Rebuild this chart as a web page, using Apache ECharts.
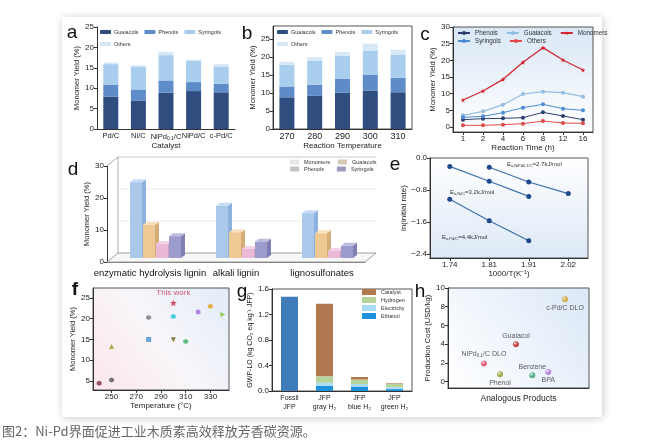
<!DOCTYPE html>
<html>
<head>
<meta charset="utf-8">
<script src="https://cdn.jsdelivr.net/npm/echarts@6/dist/echarts.min.js"></script>
<style>
html, body { margin: 0; background: #fff; }
#chart { width: 660px; height: 444px; }
</style>
</head>
<body>
<div id="chart"></div>
<script>
// a: catalysts
var catalysts = ['Pd/C', 'Ni/C', 'NiPd0.1/C', 'NiPd/C', 'c-Pd/C'];
var aGuaiacols = [7.9, 7.0, 8.9, 9.3, 9.0];
var aPhenols = [3.0, 2.7, 3.0, 2.2, 2.1];
var aSyringols = [5.0, 5.6, 6.2, 5.2, 4.1];
var aOthers = [0.4, 0.3, 0.8, 0.3, 0.7];

// b: reaction temperature
var temps = ['270', '280', '290', '300', '310'];
var bGuaiacols = [8.8, 9.2, 10.1, 10.6, 10.2];
var bPhenols = [3.0, 3.1, 3.8, 4.4, 4.0];
var bSyringols = [6.0, 6.6, 6.4, 6.8, 6.5];
var bOthers = [0.9, 1.0, 1.1, 1.9, 1.3];

// c: reaction time
var times = ['1', '2', '4', '6', '8', '12', '16'];
var cPhenols = [2.2, 2.5, 2.6, 2.8, 4.4, 3.3, 2.2];
var cGuaiacols = [3.5, 4.7, 6.7, 9.9, 10.6, 10.3, 9.1];
var cSyringols = [2.9, 3.2, 4.3, 5.8, 6.8, 5.5, 5.0];
var cMonomers = [8.1, 10.8, 14.3, 19.4, 23.8, 20.1, 17.1];
var cOthers = [0.5, 0.5, 0.7, 1.0, 1.8, 1.2, 1.1];

// d: lignin sources
var lignins = ['enzymatic hydrolysis lignin', 'alkali lignin', 'lignosulfonates'];
var dMonomers = [23.7, 16.3, 14.0];
var dGuaiacols = [10.3, 8.0, 7.7];
var dPhenols = [4.4, 2.8, 2.3];
var dSyringols = [6.8, 5.1, 3.8];

// e: Arrhenius
var invT = ['1.74', '1.81', '1.91', '2.02'];
var eNiPd = [null, -0.23, -0.60, -0.89];
var eNi = [-0.21, -0.58, -0.96, null];
var ePd = [-1.03, -1.57, -2.07, null];

// f: literature comparison
var fTemp = [240, 250, 250, 280, 280, 300, 300, 300, 310, 320, 330, 340];
var fYield = [4.4, 5.2, 13.3, 20.3, 15.0, 23.8, 20.5, 14.9, 14.5, 21.6, 23.0, 21.0];

// g: GWP
var jfp = ['Fossil\nJFP', 'JFP\ngray H₂', 'JFP\nblue H₂', 'JFP\ngreen H₂'];
var gFossil = [1.48, '-', '-', '-'];
var gEthanol = ['-', 0.08, 0.07, 0.03];
var gElectricity = ['-', 0.05, 0.04, 0.03];
var gHydrogen = ['-', 0.10, 0.07, 0.05];
var gCatalyst = ['-', 1.14, 0.04, 0.01];

// h: production cost
var products = ['NiPd0.1/C DLO', 'Phenol', 'Guaiacol', 'Benzene', 'BPA', 'c-Pd/C DLO'];
var hPos = [2.55, 3.69, 4.82, 5.98, 7.11, 8.3];
var hCost = [1.95, 0.8, 4.0, 0.7, 1.05, 8.8];

var FONT = 'Liberation Sans, Arial, sans-serif';
var cG = '#2f4d7e', cP = '#5d8cc8', cS = '#a9cdec', cO = '#d6e8f6';

function merge(a, b) {
    var o = {}, k;
    for (k in a) o[k] = a[k];
    for (k in b) {
        if (b[k] && typeof b[k] === 'object' && !Array.isArray(b[k]) && a[k] && typeof a[k] === 'object') o[k] = merge(a[k], b[k]);
        else o[k] = b[k];
    }
    return o;
}
var baseAxis = {
    axisLine: { show: true, onZero: false, lineStyle: { color: '#333', width: 1 } },
    axisTick: { show: true, length: 3, lineStyle: { color: '#333' } },
    axisLabel: { fontSize: 8, color: '#222', margin: 3, interval: 0, hideOverlap: false },
    splitLine: { show: false },
    nameLocation: 'middle',
    nameTextStyle: { fontSize: 8, color: '#222' }
};
function ax(grid, o) { return merge(merge(baseAxis, { gridIndex: grid }), o); }
function ticks(vals) { return { axisLabel: { customValues: vals }, axisTick: { customValues: vals } }; }
var subRich = { s: { fontSize: 5, padding: [4, 0, 0, 0] } };
function subFmt(v) { return v.replace('0.1', '{s|0.1}'); }
function strip(n) { return n.split(':')[1]; }
function minus(v) { return v.toFixed(1).replace('-', '−'); }

var chart = echarts.init(document.getElementById('chart'));

// 3D bars for panel d
function bar3d(k, face, top, side) {
    return function (params, api) {
        var cat = api.value(0), v = api.value(1);
        var base = api.coord([cat, 0]), tp = api.coord([cat, v]);
        var bw = 12, step = 13, dx = 4, dy = -3;
        var x = base[0] - 20 + k * step;
        var yb = base[1] - 4, yt = tp[1] - 4;
        return { type: 'group', children: [
            { type: 'polygon', shape: { points: [[x + bw, yt], [x + bw + dx, yt + dy], [x + bw + dx, yb + dy], [x + bw, yb]] }, style: { fill: side } },
            { type: 'polygon', shape: { points: [[x, yt], [x + dx, yt + dy], [x + bw + dx, yt + dy], [x + bw, yt]] }, style: { fill: top } },
            { type: 'rect', shape: { x: x, y: yt, width: bw, height: yb - yt }, style: { fill: face } }
        ] };
    };
}
function box3d(params, api) {
    var half = api.size([1, 0])[0] / 2;
    var p0 = api.coord([0, 0]), p30 = api.coord([0, 30]), pr = api.coord([2, 0]);
    var x0 = p0[0] - half, x1 = pr[0] + half, y0 = p0[1], dx = 11, dy = -9;
    var kids = [
        { type: 'polygon', shape: { points: [[x0, y0], [x1, y0], [x1 + dx, y0 + dy], [x0 + dx, y0 + dy]] }, style: { fill: '#f7f7f7', stroke: '#888', lineWidth: 0.8 } },
        { type: 'line', shape: { x1: x0 + dx, y1: y0 + dy, x2: x0 + dx, y2: p30[1] + dy }, style: { stroke: '#999', lineWidth: 0.8 } },
        { type: 'line', shape: { x1: x0, y1: p30[1], x2: x0 + dx, y2: p30[1] + dy }, style: { stroke: '#999', lineWidth: 0.8 } },
        { type: 'line', shape: { x1: x0 + dx, y1: p30[1] + dy, x2: x1 + dx, y2: p30[1] + dy }, style: { stroke: '#bbb', lineWidth: 0.8 } }
    ];
    [10, 20].forEach(function (v) {
        var p = api.coord([0, v]);
        kids.push({ type: 'line', shape: { x1: x0 + dx, y1: p[1] + dy, x2: x1 + dx, y2: p[1] + dy }, style: { stroke: '#e2e2e2', lineWidth: 0.8 } });
    });
    return { type: 'group', children: kids };
}
function toPairs(arr) { return arr.map(function (v, i) { return [i, v]; }); }

var fColors = ['#7b2a3e', '#555555', '#9a9a1a', '#777777', '#4a90d0', '#c8203c', '#22c4d4', '#6b5a14', '#3cb060', '#a070e0', '#e0a020', '#80c030'];
var HEX = 'path://M5,0 L10,2.9 L10,8.7 L5,11.6 L0,8.7 L0,2.9 Z';
var STAR = 'path://M50,0 L61,35 L98,35 L68,57 L79,91 L50,70 L21,91 L32,57 L2,35 L39,35 Z';
var fSymbols = [HEX, HEX, 'triangle', HEX, 'rect', STAR, HEX, 'triangle', HEX, 'circle', HEX, 'triangle'];
var fRotate = [0, 0, 0, 0, 0, 0, 0, 180, 0, 0, 0, -90];
var hColors = ['#e8405c', '#8a9a20', '#c41e1e', '#2fa070', '#b070e0', '#d4a020'];
var hLabelPos = ['top', 'bottom', 'top', 'top', 'bottom', 'bottom'];

function sphere(c) {
    return new echarts.graphic.RadialGradient(0.35, 0.35, 0.7, [
        { offset: 0, color: '#ffffff' }, { offset: 0.45, color: c }, { offset: 1, color: c }
    ]);
}

var option = {
    animation: false,
    textStyle: { fontFamily: FONT },
    grid: [
        { left: 97, top: 27, width: 138, height: 102, show: false },
        { left: 273, top: 26, width: 139, height: 103, show: true, borderColor: '#555', backgroundColor: '#fff' },
        { left: 453, top: 27, width: 140, height: 105, show: true, borderColor: '#555',
          backgroundColor: new echarts.graphic.LinearGradient(0, 0, 0, 1, [{ offset: 0, color: '#d9e7f6' }, { offset: 1, color: '#ffffff' }]) },
        { left: 107, top: 166, width: 258, height: 96, show: false },
        { left: 430, top: 158, width: 158, height: 100, show: true, borderColor: '#555',
          backgroundColor: new echarts.graphic.LinearGradient(0, 0, 0, 1, [{ offset: 0, color: '#ffffff' }, { offset: 1, color: '#dce8f6' }]) },
        { left: 93, top: 288, width: 136, height: 102, show: true, borderColor: '#555',
          backgroundColor: new echarts.graphic.LinearGradient(0, 1, 1, 0, [{ offset: 0, color: '#fbe6ea' }, { offset: 0.5, color: '#f8f6fa' }, { offset: 1, color: '#e2ecf8' }]) },
        { left: 272, top: 289, width: 140, height: 102, show: true, borderColor: '#555', backgroundColor: '#fff' },
        { left: 448, top: 288, width: 141, height: 100, show: true, borderColor: '#555',
          backgroundColor: new echarts.graphic.LinearGradient(0, 1, 1, 0, [{ offset: 0, color: '#ffffff' }, { offset: 1, color: '#dbe8f7' }]) }
    ],
    xAxis: [
        ax(0, { type: 'category', data: catalysts, axisTick: { show: false }, name: 'Catalyst', nameGap: 13, axisLabel: { fontSize: 7.5, formatter: subFmt, rich: subRich } }),
        ax(1, { type: 'category', data: temps, axisTick: { show: false }, name: 'Reaction Temperature', nameGap: 12, axisLabel: { fontSize: 9 } }),
        ax(2, { type: 'category', data: times, axisTick: { alignWithLabel: true }, name: 'Reaction Time (h)', nameGap: 10 }),
        ax(3, { type: 'category', data: lignins, axisTick: { show: false }, axisLine: { lineStyle: { color: '#888' } }, axisLabel: { fontSize: 9.5, margin: 6, color: '#111' } }),
        ax(4, { type: 'category', data: invT, axisTick: { alignWithLabel: true }, name: '1000/T(K⁻¹)', nameGap: 10 }),
        ax(5, merge(ticks([250, 270, 290, 310, 330]), { type: 'value', min: 235, max: 345, name: 'Temperature (°C)', nameGap: 12 })),
        ax(6, { type: 'category', data: jfp, axisTick: { show: false }, axisLabel: { fontSize: 7, lineHeight: 9 } }),
        ax(7, { type: 'value', min: 0, max: 10, axisLabel: { show: false }, axisTick: { show: false }, name: 'Analogous Products', nameGap: 6, nameTextStyle: { fontSize: 8.5 } })
    ],
    yAxis: [
        ax(0, { type: 'value', min: 0, max: 25, interval: 5, name: 'Monomer Yield (%)', nameGap: 13, nameTextStyle: { fontSize: 7.5 } }),
        ax(1, merge(ticks([0, 5, 10, 15, 20, 25]), { type: 'value', min: 0, max: 28.6, name: 'Monomer Yield (%)', nameGap: 13, nameTextStyle: { fontSize: 7.5 } })),
        ax(2, merge(ticks([0, 5, 10, 15, 20, 25, 30]), { type: 'value', min: -1.5, max: 30, name: 'Monomer Yield (%)', nameGap: 14, nameTextStyle: { fontSize: 7.5 } })),
        ax(3, { type: 'value', min: 0, max: 30, interval: 10, name: 'Monomer Yield (%)', nameGap: 14, nameTextStyle: { fontSize: 7.5 } }),
        ax(4, merge(ticks([0, -0.8, -1.6, -2.4]), { type: 'value', min: -2.5, max: 0, name: 'ln(initial rate)', nameGap: 18, axisLabel: { formatter: minus } })),
        ax(5, merge(ticks([5, 10, 15, 20, 25]), { type: 'value', min: 2.8, max: 27.4, name: 'Monomer Yield (%)', nameGap: 13, nameTextStyle: { fontSize: 7.5 } })),
        ax(6, { type: 'value', min: 0, max: 1.6, interval: 0.4, name: 'GWP-LO (kg CO₂ eq kg⁻¹ JFP)', nameGap: 16, nameTextStyle: { fontSize: 7 }, axisLabel: { formatter: function (v) { return v.toFixed(1); } } }),
        ax(7, merge(ticks([0, 2, 4, 6, 8, 10]), { type: 'value', min: -0.67, max: 10, name: 'Production Cost (USD/kg)', nameGap: 11, nameTextStyle: { fontSize: 7.5 } }))
    ],
    legend: [
        { data: ['a:Guaiacols', 'a:Phenols', 'a:Syringols', 'a:Others'], formatter: strip, left: 100, top: 29, width: 128, padding: 0, itemWidth: 11, itemHeight: 4, itemGap: 6, textStyle: { fontSize: 5.5, color: '#333', padding: [0, 0, 0, -2] }, selectedMode: false },
        { data: ['b:Guaiacols', 'b:Phenols', 'b:Syringols', 'b:Others'], formatter: strip, left: 277, top: 29, width: 128, padding: 0, itemWidth: 11, itemHeight: 4, itemGap: 6, textStyle: { fontSize: 5.5, color: '#333', padding: [0, 0, 0, -2] }, selectedMode: false },
        { data: ['c:Phenols', 'c:Guaiacols', 'c:Monomers'], formatter: strip, left: 457, top: 30, padding: 0, itemWidth: 12, itemHeight: 5, itemGap: 8, textStyle: { fontSize: 6.3, color: '#333' }, selectedMode: false },
        { data: ['c:Syringols', 'c:Others'], formatter: strip, left: 457, top: 38, padding: 0, itemWidth: 12, itemHeight: 5, itemGap: 8, textStyle: { fontSize: 6.3, color: '#333' }, selectedMode: false },
        { data: [{ name: 'd:Monomers', itemStyle: { color: '#e6e6e6' } }, { name: 'd:Guaiacols', itemStyle: { color: '#d6cab2' } }], formatter: strip, left: 290, top: 159, padding: 0, icon: 'rect', itemWidth: 9, itemHeight: 5, itemGap: 8, textStyle: { fontSize: 5.5, color: '#333' }, selectedMode: false },
        { data: [{ name: 'd:Phenols', itemStyle: { color: '#c4c4c4' } }, { name: 'd:Syringols', itemStyle: { color: '#9c9cbe' } }], formatter: strip, left: 290, top: 166, padding: 0, icon: 'rect', itemWidth: 9, itemHeight: 5, itemGap: 13, textStyle: { fontSize: 5.5, color: '#333' }, selectedMode: false },
        { data: ['g:Catalyst', 'g:Hydrogen', 'g:Electricity', 'g:Ethanol'], formatter: strip, orient: 'vertical', left: 362, top: 289, padding: 0, icon: 'rect', itemWidth: 14, itemHeight: 6, itemGap: 2, textStyle: { fontSize: 5.5, color: '#333' }, selectedMode: false }
    ],
    series: [
        // a
        { name: 'a:Guaiacols', type: 'bar', stack: 'a', xAxisIndex: 0, yAxisIndex: 0, barWidth: 15, data: aGuaiacols, itemStyle: { color: cG } },
        { name: 'a:Phenols', type: 'bar', stack: 'a', xAxisIndex: 0, yAxisIndex: 0, barWidth: 15, data: aPhenols, itemStyle: { color: cP } },
        { name: 'a:Syringols', type: 'bar', stack: 'a', xAxisIndex: 0, yAxisIndex: 0, barWidth: 15, data: aSyringols, itemStyle: { color: cS } },
        { name: 'a:Others', type: 'bar', stack: 'a', xAxisIndex: 0, yAxisIndex: 0, barWidth: 15, data: aOthers, itemStyle: { color: cO } },
        // b
        { name: 'b:Guaiacols', type: 'bar', stack: 'b', xAxisIndex: 1, yAxisIndex: 1, barWidth: 15, data: bGuaiacols, itemStyle: { color: cG } },
        { name: 'b:Phenols', type: 'bar', stack: 'b', xAxisIndex: 1, yAxisIndex: 1, barWidth: 15, data: bPhenols, itemStyle: { color: cP } },
        { name: 'b:Syringols', type: 'bar', stack: 'b', xAxisIndex: 1, yAxisIndex: 1, barWidth: 15, data: bSyringols, itemStyle: { color: cS } },
        { name: 'b:Others', type: 'bar', stack: 'b', xAxisIndex: 1, yAxisIndex: 1, barWidth: 15, data: bOthers, itemStyle: { color: cO } },
        // c
        { name: 'c:Phenols', type: 'line', xAxisIndex: 2, yAxisIndex: 2, data: cPhenols, symbol: 'circle', symbolSize: 4, color: '#2b3f6e', lineStyle: { width: 1 } },
        { name: 'c:Guaiacols', type: 'line', xAxisIndex: 2, yAxisIndex: 2, data: cGuaiacols, symbol: 'circle', symbolSize: 4, color: '#95bde4', lineStyle: { width: 1.2 } },
        { name: 'c:Syringols', type: 'line', xAxisIndex: 2, yAxisIndex: 2, data: cSyringols, symbol: 'circle', symbolSize: 4, color: '#4d8bd2', lineStyle: { width: 1 } },
        { name: 'c:Monomers', type: 'line', xAxisIndex: 2, yAxisIndex: 2, data: cMonomers, symbol: STAR, symbolSize: 5, color: '#d3262e', lineStyle: { width: 1.3 } },
        { name: 'c:Others', type: 'line', xAxisIndex: 2, yAxisIndex: 2, data: cOthers, symbol: 'circle', symbolSize: 4, color: '#e04848', lineStyle: { width: 1 } },
        // d
        { type: 'custom', xAxisIndex: 3, yAxisIndex: 3, data: [[0, 0]], renderItem: box3d, silent: true, z: 1 },
        { name: 'd:Monomers', type: 'custom', xAxisIndex: 3, yAxisIndex: 3, encode: { x: 0, y: 1 }, data: toPairs(dMonomers), renderItem: bar3d(0, '#a9c8ea', '#c8ddf3', '#8cb1dc'), color: '#e6e6e6' },
        { name: 'd:Guaiacols', type: 'custom', xAxisIndex: 3, yAxisIndex: 3, encode: { x: 0, y: 1 }, data: toPairs(dGuaiacols), renderItem: bar3d(1, '#efc994', '#f6dfba', '#d5ad78'), color: '#d6cab2' },
        { name: 'd:Phenols', type: 'custom', xAxisIndex: 3, yAxisIndex: 3, encode: { x: 0, y: 1 }, data: toPairs(dPhenols), renderItem: bar3d(2, '#e9b9d6', '#f3d3e6', '#cf9cbf'), color: '#c4c4c4' },
        { name: 'd:Syringols', type: 'custom', xAxisIndex: 3, yAxisIndex: 3, encode: { x: 0, y: 1 }, data: toPairs(dSyringols), renderItem: bar3d(3, '#9d9dcd', '#bcbce0', '#7f7fb4'), color: '#9c9cbe' },
        // e
        { type: 'line', xAxisIndex: 4, yAxisIndex: 4, data: eNiPd, symbol: 'circle', symbolSize: 5, lineStyle: { color: '#3d70ae', width: 1.2 }, itemStyle: { color: '#1d4a8c' } },
        { type: 'line', xAxisIndex: 4, yAxisIndex: 4, data: eNi, symbol: 'circle', symbolSize: 5, lineStyle: { color: '#3d70ae', width: 1.2 }, itemStyle: { color: '#1d4a8c' } },
        { type: 'line', xAxisIndex: 4, yAxisIndex: 4, data: ePd, symbol: 'circle', symbolSize: 5, lineStyle: { color: '#3d70ae', width: 1.2 }, itemStyle: { color: '#1d4a8c' } },
        // f
        { type: 'scatter', xAxisIndex: 5, yAxisIndex: 5,
          data: fTemp.map(function (t, i) {
              var item = { value: [t, fYield[i]], symbol: fSymbols[i], symbolRotate: fRotate[i], symbolSize: fSymbols[i] === STAR ? 7 : 5, itemStyle: { color: fColors[i] } };
              if (fSymbols[i] === STAR) item.label = { show: true, position: 'top', distance: 3, formatter: 'This work', color: '#c8304e', fontSize: 8 };
              return item;
          }) },
        // g
        { name: 'g:Fossil', type: 'bar', stack: 'g', xAxisIndex: 6, yAxisIndex: 6, barWidth: 17, data: gFossil, itemStyle: { color: '#3f7cb9' } },
        { name: 'g:Ethanol', type: 'bar', stack: 'g', xAxisIndex: 6, yAxisIndex: 6, barWidth: 17, data: gEthanol, itemStyle: { color: '#1f92dc' } },
        { name: 'g:Electricity', type: 'bar', stack: 'g', xAxisIndex: 6, yAxisIndex: 6, barWidth: 17, data: gElectricity, itemStyle: { color: '#abdcf5' } },
        { name: 'g:Hydrogen', type: 'bar', stack: 'g', xAxisIndex: 6, yAxisIndex: 6, barWidth: 17, data: gHydrogen, itemStyle: { color: '#b7d49c' } },
        { name: 'g:Catalyst', type: 'bar', stack: 'g', xAxisIndex: 6, yAxisIndex: 6, barWidth: 17, data: gCatalyst, itemStyle: { color: '#b0794f' } },
        // h
        { type: 'scatter', xAxisIndex: 7, yAxisIndex: 7,
          data: hPos.map(function (p, i) {
              return { value: [p, hCost[i]], symbolSize: 6, itemStyle: { color: sphere(hColors[i]) },
                       label: { show: true, position: hLabelPos[i], distance: 2, formatter: subFmt(products[i]), rich: { s: { fontSize: 4.5, padding: [3, 0, 0, 0] } }, fontSize: 7, color: '#333' } };
          }) }
    ],
    graphic: [
        { type: 'rect', z: -100, shape: { x: 62, y: 17, width: 540, height: 400 }, style: { fill: '#fff', shadowBlur: 8, shadowColor: 'rgba(0,0,0,0.22)', shadowOffsetX: 1, shadowOffsetY: 1 } },
        { type: 'text', x: 72, y: 33, style: { text: 'a', font: '19px ' + FONT, fill: '#111', align: 'center', verticalAlign: 'middle' } },
        { type: 'text', x: 247, y: 34, style: { text: 'b', font: '19px ' + FONT, fill: '#111', align: 'center', verticalAlign: 'middle' } },
        { type: 'text', x: 425, y: 35, style: { text: 'c', font: '19px ' + FONT, fill: '#111', align: 'center', verticalAlign: 'middle' } },
        { type: 'text', x: 73, y: 170, style: { text: 'd', font: '19px ' + FONT, fill: '#111', align: 'center', verticalAlign: 'middle' } },
        { type: 'text', x: 395, y: 165, style: { text: 'e', font: '19px ' + FONT, fill: '#111', align: 'center', verticalAlign: 'middle' } },
        { type: 'text', x: 75, y: 290, style: { text: 'f', font: 'bold 19px ' + FONT, fill: '#111', align: 'center', verticalAlign: 'middle' } },
        { type: 'text', x: 242, y: 292, style: { text: 'g', font: '19px ' + FONT, fill: '#111', align: 'center', verticalAlign: 'middle' } },
        { type: 'text', x: 420, y: 292, style: { text: 'h', font: '19px ' + FONT, fill: '#111', align: 'center', verticalAlign: 'middle' } },
        { type: 'text', x: 507, y: 164, style: { text: 'E{s|a,NiPd0.1/C}=2.7kJ/mol', fontSize: 6, fontFamily: FONT, fill: '#333', verticalAlign: 'middle', rich: { s: { fontSize: 4, padding: [3, 0, 0, 0] } } } },
        { type: 'text', x: 450, y: 192, style: { text: 'E{s|a,Ni/C}=3.2kJ/mol', fontSize: 6, fontFamily: FONT, fill: '#333', verticalAlign: 'middle', rich: { s: { fontSize: 4, padding: [3, 0, 0, 0] } } } },
        { type: 'text', x: 442, y: 237, style: { text: 'E{s|a,Pd/C}=4.4kJ/mol', fontSize: 6, fontFamily: FONT, fill: '#333', verticalAlign: 'middle', rich: { s: { fontSize: 4, padding: [3, 0, 0, 0] } } } },
        { type: 'text', x: 2, y: 431, style: { text: '图2：Ni-Pd界面促进工业木质素高效释放芳香碳资源。', font: '13px "Noto Sans CJK SC", sans-serif', fill: '#666', verticalAlign: 'middle' } }
    ]
};
chart.setOption(option);
</script>
</body>
</html>
